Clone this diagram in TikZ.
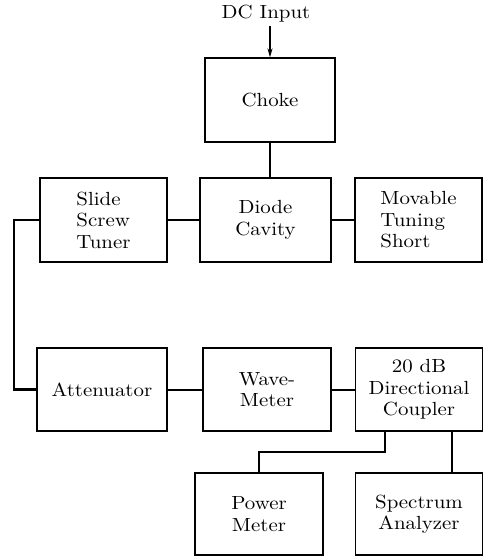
\documentclass[tikz,border=0pt]{standalone}
\usepackage{fontspec}
\newfontfamily\diagfont{lmroman10-regular.otf}[FakeStretch=1.1]
\usetikzlibrary{arrows.meta}
\tikzset{
  lbl/.style={font=\diagfont\fontsize{19}{21.5}\selectfont},
  blk/.style={draw, line width=1.3pt, rectangle, inner sep=0pt, align=center, lbl},
  wire/.style={line width=2pt, line cap=rect},
}
\begin{document}
\begin{tikzpicture}[x=1pt,y=-1pt]
\useasboundingbox (0,0) rectangle (483,559);
\node[lbl] (dc) at (266,14) {DC Input};
\node[blk, minimum width=130pt, minimum height=84pt] (choke) at (270,100) {Choke};
\node[blk, minimum width=127pt, minimum height=84pt, align=left] (slide) at (103.5,220) {Slide\\Screw\\Tuner};
\node[blk, minimum width=131pt, minimum height=84pt] (diode) at (265.5,220) {Diode\\Cavity};
\node[blk, minimum width=127pt, minimum height=84pt, align=left] (short) at (418.5,220) {Movable\\Tuning\\Short};
\node[blk, minimum width=130pt, minimum height=83pt] (atten) at (102,389.5) {Attenuator};
\node[blk, minimum width=128pt, minimum height=83pt] (wave) at (267,389.5) {Wave-\\Meter};
\node[blk, minimum width=127pt, minimum height=83pt] (coup) at (419,389.5) {20 dB\\Directional\\Coupler};
\node[blk, minimum width=128pt, minimum height=82pt] (power) at (259,514) {Power\\Meter};
\node[blk, minimum width=127pt, minimum height=82pt] (spec) at (419,514) {Spectrum\\Analyzer};
\coordinate (lc) at (14,220);
\coordinate (pt1) at (385,431);
\coordinate (st1) at (452,431);
\draw[line width=1.5pt, -{Stealth[length=9pt,width=5pt]}] (dc.south -| choke.north) -- (choke.north);
\draw[wire] (choke.south) -- (choke.south |- diode.north);
\draw[wire] (slide.east) -- (diode.west);
\draw[wire] (diode.east) -- (short.west);
\draw[wire, line width=2.5pt, line join=miter] (slide.west) -- (lc) |- (atten.west);
\draw[wire] (atten.east) -- (wave.west);
\draw[wire] (wave.east) -- (coup.west);
\draw[wire] (pt1) -- ++(0,21) -| (power.north);
\draw[wire] (st1) -- (st1 |- spec.north);
\end{tikzpicture}
\end{document}
